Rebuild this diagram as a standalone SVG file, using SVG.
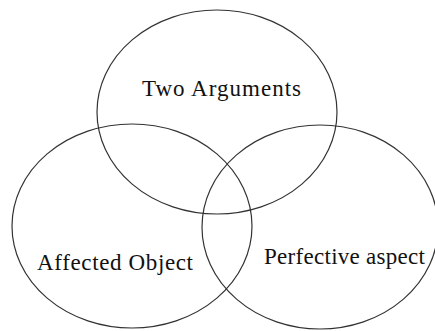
<svg xmlns="http://www.w3.org/2000/svg" width="435" height="331" viewBox="0 0 435 331">
<style>
.c{fill:none;stroke:#333;stroke-width:1.2}
.t{font-family:"Liberation Serif","Times New Roman",serif;font-size:23px;fill:#111}
</style>
<rect width="435" height="331" fill="#fff"/>
<g id="two-arguments"><ellipse class="c" cx="217" cy="112" rx="120" ry="102"/><text class="t" x="142" y="96" textLength="159" lengthAdjust="spacing">Two Arguments</text></g>
<g id="affected-object"><ellipse class="c" cx="132" cy="226" rx="120" ry="102"/><text class="t" x="37" y="270" textLength="156" lengthAdjust="spacing">Affected Object</text></g>
<g id="perfective-aspect"><ellipse class="c" cx="320" cy="227" rx="118" ry="102"/><text class="t" x="264" y="264" textLength="161" lengthAdjust="spacing">Perfective aspect</text></g>
<g id="connectors"></g>
</svg>
